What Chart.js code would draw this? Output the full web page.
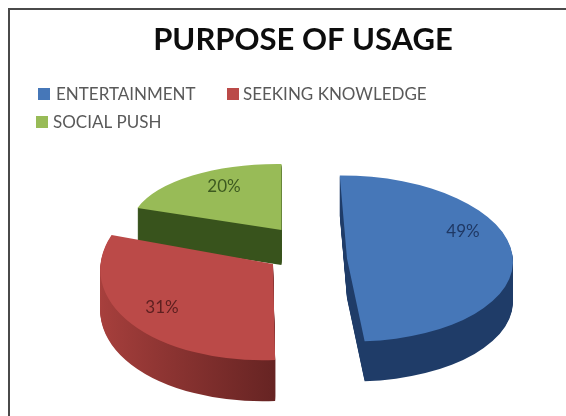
<!DOCTYPE html>
<html>
<head>
<meta charset="utf-8">
<title>Purpose of usage</title>
<script src="https://cdn.jsdelivr.net/npm/chart.js@4"></script>
<style>
  html, body { margin: 0; padding: 0; background: #fff; }
  #wrap { width: 566px; height: 416px; }
</style>
</head>
<body>
<div id="wrap"><canvas id="chart" width="566" height="416"></canvas></div>
<script>
const categories = ['ENTERTAINMENT', 'SEEKING KNOWLEDGE', 'SOCIAL PUSH'];
const shares = [49, 31, 20];
const percentLabels = ['49%', '31%', '20%'];
const topColors = ['#4677b8', '#bb4a48', '#98bb57'];
const sideLightColors = ['#1f3c68', '#a8403d', '#38531c'];
const sideDarkColors = ['#1f3c68', '#672423', '#38531c'];
const labelColors = ['#1f3864', '#5e2020', '#3d5a20'];

// Each slice lies flat under its own affine view (a b c d for a unit radius) and sits apart from the others.
const sliceViews = [
  { ax: 347, ay: 258.5, a: 166, b: 3, c: 0, d: 83, depth: 40, lx: 116, ly: -26.5 },
  { ax: 273, ay: 264, a: 172, b: 3.4, c: -16.2, d: 96.2, depth: 41, lx: -111, ly: 44 },
  { ax: 281.5, ay: 230, a: 151.3, b: 4.6, c: -6.6, d: 65.9, depth: 35, lx: -57.5, ly: -43 }
];
const paintOrder = [0, 2, 1];
const legendKeys = [
  { x: 38, y: 94, size: 12, gap: 18 },
  { x: 227, y: 94, size: 12, gap: 16 },
  { x: 36, y: 122, size: 12, gap: 17 }
];

function placeSlice(ctx, arc, view, drop) {
  const unit = 1 / arc.outerRadius;
  ctx.translate(view.ax, view.ay + drop);
  ctx.transform(view.a * unit, view.b * unit, view.c * unit, view.d * unit, 0, 0);
  ctx.translate(-arc.x, -arc.y);
}

function paintArc(ctx, arc, fill) {
  const resolved = arc.options;
  arc.options = Object.assign({}, resolved, { backgroundColor: fill, borderWidth: 0 });
  arc.draw(ctx);
  arc.options = resolved;
}

const extrudedPie = {
  id: 'extrudedPie',
  beforeDraw(chart) {
    const { ctx, width, height } = chart;
    ctx.save();
    ctx.fillStyle = '#fff';
    ctx.fillRect(0, 0, width, height);
    ctx.strokeStyle = '#4a4a4a';
    ctx.lineWidth = 2;
    ctx.beginPath();
    ctx.moveTo(9, height);
    ctx.lineTo(9, 9);
    ctx.lineTo(width, 9);
    ctx.stroke();
    ctx.restore();
  },
  beforeDatasetDraw(chart, args) {
    const { ctx } = chart;
    const arcs = args.meta.data;
    paintOrder.forEach((i) => {
      const arc = arcs[i];
      const view = sliceViews[i];
      const edge = ctx.createLinearGradient(arc.x - arc.outerRadius, 0, arc.x + arc.outerRadius * 0.1, 0);
      edge.addColorStop(0, sideLightColors[i]);
      edge.addColorStop(1, sideDarkColors[i]);
      for (let d = view.depth; d >= 1; d--) {
        ctx.save();
        placeSlice(ctx, arc, view, d);
        paintArc(ctx, arc, edge);
        ctx.restore();
      }
      ctx.save();
      placeSlice(ctx, arc, view, 0);
      paintArc(ctx, arc, topColors[i]);
      ctx.restore();
    });
    return false;
  },
  afterDraw(chart) {
    const { ctx } = chart;
    ctx.save();
    ctx.textBaseline = 'middle';
    ctx.textAlign = 'center';
    ctx.font = '17px Lato';
    percentLabels.forEach((text, i) => {
      const view = sliceViews[i];
      ctx.fillStyle = labelColors[i];
      ctx.fillText(text, view.ax + view.lx, view.ay + view.ly);
    });
    // Legend keys wrap onto a second, tighter row than the built-in legend allows.
    ctx.textAlign = 'left';
    categories.forEach((name, i) => {
      const key = legendKeys[i];
      ctx.fillStyle = topColors[i];
      ctx.fillRect(key.x, key.y - key.size / 2, key.size, key.size);
      ctx.fillStyle = '#595959';
      ctx.fillText(name, key.x + key.gap, key.y + 1);
    });
    ctx.restore();
  }
};

new Chart(document.getElementById('chart'), {
  type: 'pie',
  data: {
    labels: categories,
    datasets: [{ data: shares, backgroundColor: topColors, borderWidth: 0 }]
  },
  options: {
    responsive: false,
    animation: false,
    rotation: -2.5,
    layout: { padding: { top: 21, left: 40 } },
    plugins: {
      legend: { display: false },
      tooltip: { enabled: false },
      title: {
        display: true,
        text: 'PURPOSE OF USAGE',
        color: '#0d0d0d',
        font: { family: 'Lato', size: 31, weight: 'bold' },
        padding: { top: 0, bottom: 10 }
      }
    }
  },
  plugins: [extrudedPie]
});
</script>
</body>
</html>
